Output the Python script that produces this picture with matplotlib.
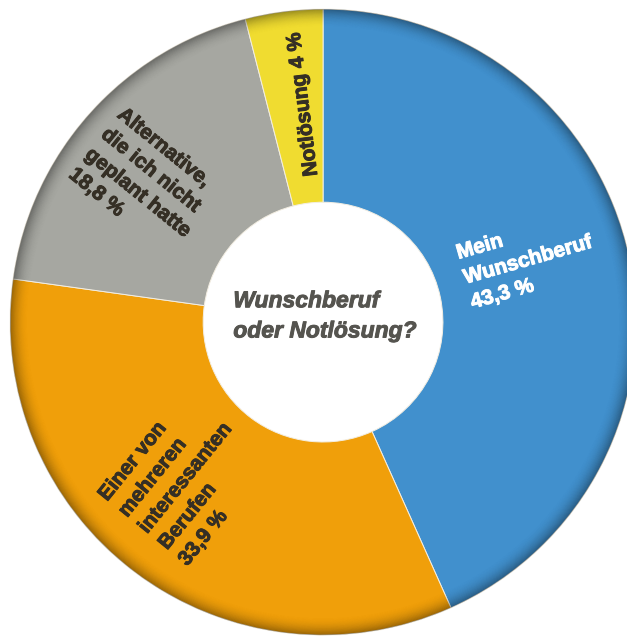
import matplotlib
matplotlib.use("Agg")
import matplotlib.pyplot as plt
from matplotlib.patches import Wedge
import matplotlib.patheffects as pe

# ---- data ----
categories = ["Mein\nWunschberuf", "Einer von\nmehreren\ninteressanten\nBerufen",
              "Alternative,\ndie ich nicht\ngeplant hatte", "Notlösung"]
values = [43.3, 33.9, 18.8, 4.0]
value_labels = ["43,3 %", "33,9 %", "18,8 %", "4 %"]
colors = ["#4190cd", "#f09f0a", "#a6a7a1", "#f0dc30"]
title_text = "Wunschberuf\noder Notlösung?"

W, H, DPI = 627, 637, 100
fig = plt.figure(figsize=(W / DPI, H / DPI), dpi=DPI)
ax = fig.add_axes([0, 0, 1, 1])

inner = 0.383
ax.pie(values, colors=colors, startangle=90, counterclock=False, radius=1.0,
       wedgeprops=dict(width=1 - inner, edgecolor="#f3eee2", linewidth=0.7))

ax.set_xlim(-1.032, 0.971)
ax.set_ylim(-1.006, 1.029)
ax.set_aspect("equal")
ax.axis("off")

# outer rim shading
n = 24
r0 = 0.94
for i in range(n):
    ra = r0 + (1 - r0) * i / n
    rb = r0 + (1 - r0) * (i + 1) / n
    a = 0.38 * ((i + 1) / n) ** 2.2
    ax.add_patch(Wedge((0, 0), rb, 0, 360, width=rb - ra, facecolor="black",
                       alpha=a, linewidth=0))

font = "Liberation Sans"
dark = "#352f25"
fs = 15
ls = 1.45


def heavy(c):
    return [pe.withStroke(linewidth=0.7, foreground=c)]


# labels
ax.text(0.655, 0.198, categories[0] + "\n" + value_labels[0], color="white",
        fontsize=fs, fontweight="bold", family=font, rotation=16,
        rotation_mode="anchor", ha="center", va="center", multialignment="left",
        linespacing=ls, path_effects=heavy("white"))
ax.text(-0.439, -0.498, categories[1] + "\n" + value_labels[1], color=dark,
        fontsize=fs, fontweight="bold", family=font, rotation=51,
        rotation_mode="anchor", ha="center", va="center", multialignment="left",
        linespacing=ls, path_effects=heavy(dark))
ax.text(-0.565, 0.444, categories[2] + "\n" + value_labels[2], color=dark,
        fontsize=fs, fontweight="bold", family=font, rotation=-39,
        rotation_mode="anchor", ha="center", va="center", multialignment="left",
        linespacing=ls, path_effects=heavy(dark))
ax.text(-0.064, 0.696, categories[3] + " " + value_labels[3], color=dark,
        fontsize=fs, fontweight="bold", family=font, rotation=97,
        rotation_mode="anchor", ha="center", va="center",
        path_effects=heavy(dark))

# centre title
ax.text(0.006, 0.02, title_text, color="#55544f", fontsize=16.5,
        fontweight="bold", fontstyle="italic", family=font,
        ha="center", va="center", multialignment="left", linespacing=1.4,
        path_effects=heavy("#55544f"))

fig.savefig("out.png", dpi=DPI)
